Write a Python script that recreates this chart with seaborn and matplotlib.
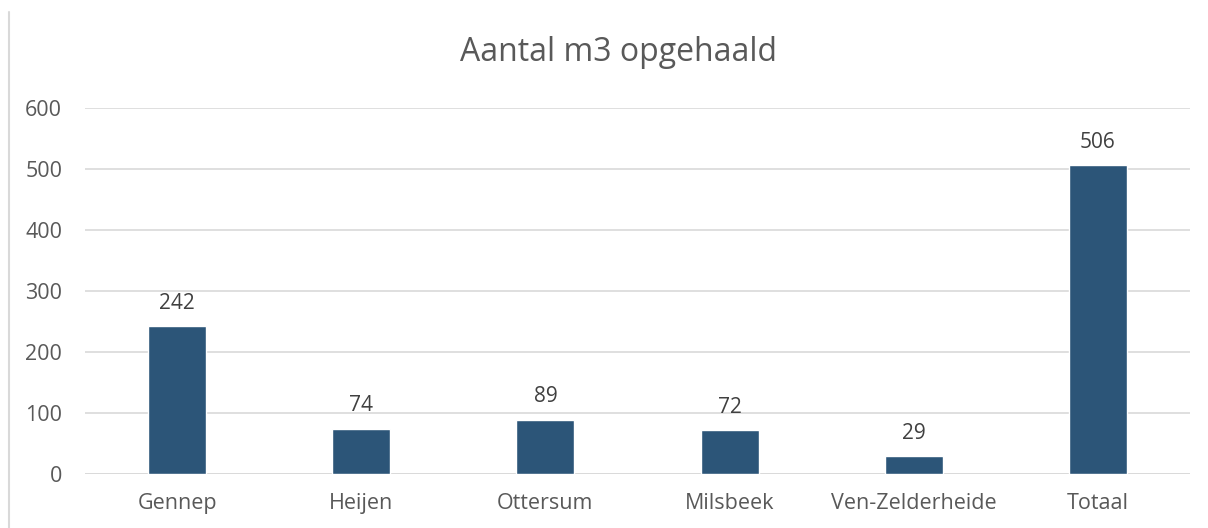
import pandas as pd
import seaborn as sns
import matplotlib.pyplot as plt
from matplotlib.lines import Line2D

plaatsen = ["Gennep", "Heijen", "Ottersum", "Milsbeek", "Ven-Zelderheide", "Totaal"]
m3 = [242, 74, 89, 72, 29, 506]
y_ticks = [0, 100, 200, 300, 400, 500, 600]

df = pd.DataFrame({"plaats": plaatsen, "m3": m3})

sns.set_theme(style="white")
plt.rcParams["font.family"] = ["Open Sans", "DejaVu Sans"]
grey = "#595959"

fig = plt.figure(figsize=(12.08, 5.28), dpi=100)
ax = fig.add_axes([0.0704, 0.1023, 0.9146, 0.6932])

sns.barplot(data=df, x="plaats", y="m3", color="#2C5578", width=0.315,
            saturation=1, ax=ax, zorder=3)

ax.set_ylim(0, 600)
ax.set_yticks(y_ticks)
ax.set_xlim(-0.5, len(plaatsen) - 0.5)
ax.grid(axis="y", color="#d9d9d9", linewidth=1.2, zorder=0)
ax.set_axisbelow(True)
for s in ax.spines.values():
    s.set_visible(False)
ax.axhline(0, color="#d9d9d9", linewidth=1.2, zorder=1)

ax.tick_params(axis="y", length=0, pad=16.5, labelsize=15.5, labelcolor=grey)
ax.tick_params(axis="x", length=0, pad=14, labelsize=15.5, labelcolor=grey)
ax.set_xlabel("")
ax.set_ylabel("")

for i, v in enumerate(m3):
    ax.annotate(str(v), (i, v), xytext=(0, 9), textcoords="offset points",
                ha="center", va="bottom", fontsize=15, color="#404040")

fig.text(0.5117, 0.90, "Aantal m3 opgehaald", ha="center", va="center",
         fontsize=23, color=grey)

fig.add_artist(Line2D([9 / 1208, 9 / 1208], [0, 1 - 12 / 528],
                      transform=fig.transFigure, color="#d9d9d9", linewidth=1.5))

fig.savefig("out.png", dpi=100)
